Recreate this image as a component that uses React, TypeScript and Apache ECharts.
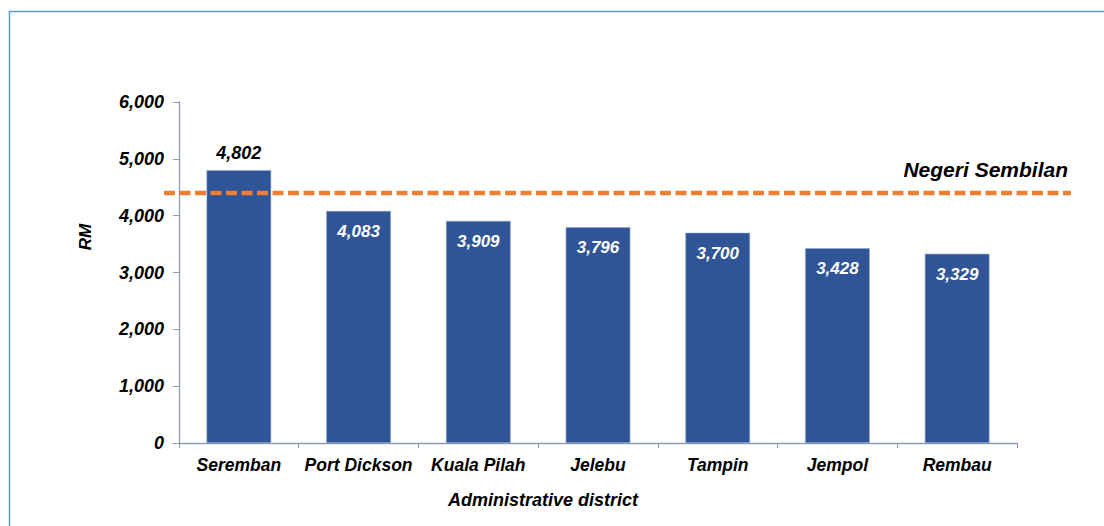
import React, { useEffect, useRef } from "react";
import * as echarts from "echarts";

const categories = ["Seremban", "Port Dickson", "Kuala Pilah", "Jelebu", "Tampin", "Jempol", "Rembau"];
const incomes = [4802, 4083, 3909, 3796, 3700, 3428, 3329];
const stateMean = 4399;
const stateName = "Negeri Sembilan";
const yTicks = { min: 0, max: 6000, interval: 1000 };

const FONT = "'Liberation Sans', Arial, sans-serif";

export default function App() {
  const ref = useRef<HTMLDivElement>(null);
  useEffect(() => {
    if (!ref.current) return;
    const chart = echarts.init(ref.current, undefined, { renderer: "svg" });
    const fmt = (v: number) => v.toLocaleString("en-US");
    chart.setOption({
      animation: false,
      backgroundColor: "#ffffff",
      grid: { left: 179, right: 87, top: 102, bottom: 83 },
      title: {
        text: "Administrative district",
        left: 538,
        top: 486,
        textAlign: "center",
        textStyle: { fontFamily: FONT, fontSize: 18, fontWeight: "bold", fontStyle: "italic", color: "#000" },
      },
      graphic: [
        {
          type: "polyline",
          shape: { points: [[9.5, 526], [9.5, 11.5], [1104, 11.5]] },
          style: { stroke: "#5B9BD5", lineWidth: 1.5, fill: "none" },
          silent: true,
        },
        {
          type: "text",
          x: 85,
          y: 237,
          rotation: Math.PI / 2,
          style: {
            text: "RM",
            x: 0,
            y: 0,
            align: "center",
            verticalAlign: "middle",
            font: `italic bold 17px ${FONT}`,
            fill: "#000",
          },
        },
      ],
      xAxis: {
        type: "category",
        data: categories,
        axisLine: { lineStyle: { color: "#8E9AAF", width: 1.3 } },
        axisTick: { show: true, length: 5, lineStyle: { color: "#8E9AAF" } },
        axisLabel: {
          margin: 13,
          fontFamily: FONT,
          fontSize: 17.5,
          fontWeight: "bold",
          fontStyle: "italic",
          color: "#000",
          interval: 0,
        },
      },
      yAxis: {
        type: "value",
        min: yTicks.min,
        max: yTicks.max,
        interval: yTicks.interval,
        splitLine: { show: false },
        axisLine: { show: true, lineStyle: { color: "#8E9AAF", width: 1.3 } },
        axisTick: { show: true, length: 6, lineStyle: { color: "#8E9AAF" } },
        axisLabel: {
          margin: 15,
          fontFamily: FONT,
          fontSize: 18,
          fontWeight: "bold",
          fontStyle: "italic",
          color: "#000",
          formatter: (v: number) => fmt(v),
        },
      },
      series: [
        {
          type: "bar",
          barWidth: "54%",
          data: incomes.map((v, i) => ({
            value: v,
            label:
              i === 0
                ? { position: "top", distance: 8, color: "#000", fontSize: 18 }
                : { position: "insideTop", distance: 12, color: "#fff", fontSize: 17 },
          })),
          itemStyle: { color: "#2F5597", borderColor: "#8FA7D0", borderWidth: 0.6 },
          label: {
            show: true,
            fontFamily: FONT,
            fontWeight: "bold",
            fontStyle: "italic",
            formatter: (p: any) => fmt(p.value),
          },
          z: 2,
        },
        {
          type: "custom",
          z: 5,
          clip: false,
          data: [[0, stateMean]],
          renderItem: (params: any, api: any) => {
            const y = api.coord([0, api.value(1)])[1];
            return {
              type: "group",
              children: [
                {
                  type: "line",
                  shape: { x1: 164, y1: y, x2: 1071, y2: y },
                  style: { stroke: "#ED7D31", lineWidth: 4.5, lineDash: [11, 4.5] },
                },
                {
                  type: "text",
                  style: {
                    text: stateName,
                    x: 1068,
                    y: y - 23,
                    align: "right",
                    verticalAlign: "middle",
                    font: `italic bold 21px ${FONT}`,
                    fill: "#000",
                  },
                },
              ],
            };
          },
        },
      ],
    });
    return () => chart.dispose();
  }, []);
  return <div ref={ref} style={{ position: "absolute", left: 0, top: 0, width: 1104, height: 526 }} />;
}
